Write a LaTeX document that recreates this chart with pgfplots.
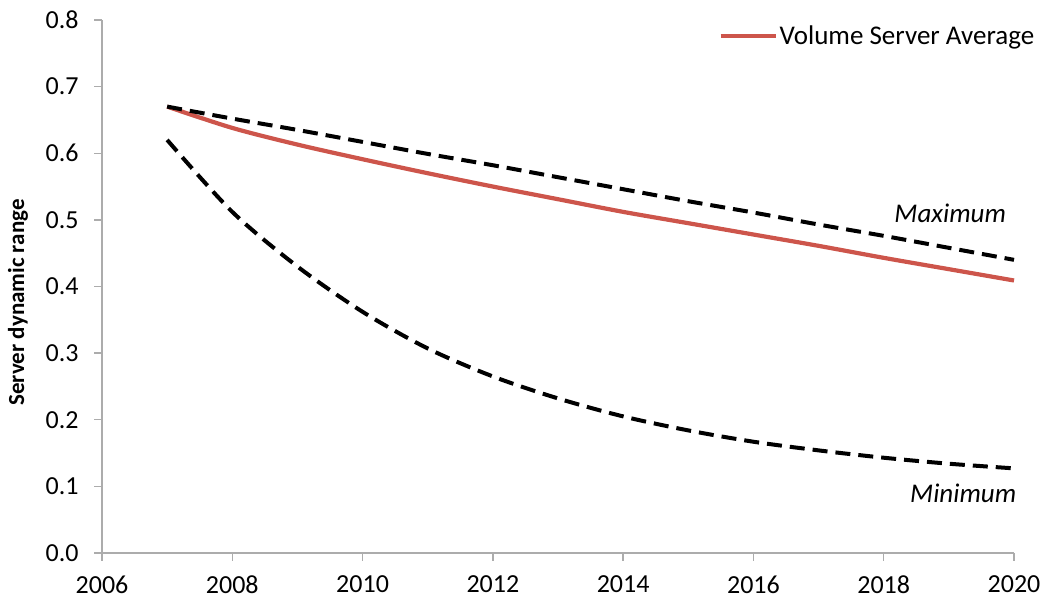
\documentclass[border=0pt]{standalone}
\usepackage{pgfplots}
\pgfplotsset{compat=1.18}
\usepackage{fontspec}
\setmainfont{Carlito}
\begin{document}
\begin{tikzpicture}
\begin{axis}[
  scale only axis,
  width=912pt, height=533pt,
  xmin=2006, xmax=2020, ymin=0, ymax=0.8,
  xtick={2006,2008,...,2020},
  ytick={0,0.1,...,0.8},
  axis lines*=left,
  axis line style={draw=gray!65, line width=1.3pt},
  every tick/.style={draw=gray!65, line width=1.3pt},
  tick align=outside,
  major tick length=8pt,
  xticklabel style={font=\fontsize{26}{30}\selectfont, yshift=-11pt},
  yticklabel style={font=\fontsize{26}{30}\selectfont, xshift=-12pt},
  /pgf/number format/assume math mode=true,
  x tick label style={/pgf/number format/1000 sep={}},
  y tick label style={/pgf/number format/.cd, fixed, fixed zerofill, precision=1},
  ylabel={\textbf{Server dynamic range}},
  every axis y label/.style={at={(axis description cs:0,0.47)}, xshift=-84pt, rotate=90, anchor=center, font=\fontsize{23}{27}\selectfont},
  legend style={draw=none, fill=none, at={(axis cs:2015.46,0.776)}, anchor=west, font=\fontsize{27}{31}\selectfont, inner sep=0pt},
  legend cell align=left,
  legend image code/.code={\draw[#1] (0pt,0pt) -- (55pt,0pt);},
  clip=false,
]
\addplot[color={rgb,255:red,205;green,85;blue,75}, line width=4.2pt, smooth] coordinates {
(2007,0.670) (2008,0.638) (2009,0.613) (2010,0.591) (2011,0.570) (2012,0.550) (2013,0.531) (2014,0.512) (2015,0.495) (2016,0.478) (2017,0.461) (2018,0.443) (2019,0.426) (2020,0.409)
};
\addlegendentry{Volume Server Average}
\addplot[black, line width=4pt, dash pattern=on 15pt off 8pt, smooth, forget plot] coordinates {
(2007,0.670) (2008,0.652) (2009,0.635) (2010,0.617) (2011,0.599) (2012,0.582) (2013,0.564) (2014,0.546) (2015,0.528) (2016,0.511) (2017,0.493) (2018,0.476) (2019,0.458) (2020,0.440)
};
\addplot[black, line width=4pt, dash pattern=on 15pt off 8pt, smooth, forget plot] coordinates {
(2007,0.620) (2008,0.512) (2009,0.430) (2010,0.362) (2011,0.307) (2012,0.265) (2013,0.232) (2014,0.205) (2015,0.184) (2016,0.167) (2017,0.154) (2018,0.143) (2019,0.134) (2020,0.127)
};
\node[font=\fontsize{27}{31}\selectfont\itshape] at (axis cs:2019.02,0.51) {Maximum};
\node[font=\fontsize{27}{31}\selectfont\itshape] at (axis cs:2019.22,0.089) {Minimum};
\end{axis}
\pgfresetboundingbox
\path[use as bounding box] (current axis.south west) ++(-102pt,-47pt) rectangle ([shift={(31pt,20pt)}]current axis.north east);
\end{tikzpicture}
\end{document}
